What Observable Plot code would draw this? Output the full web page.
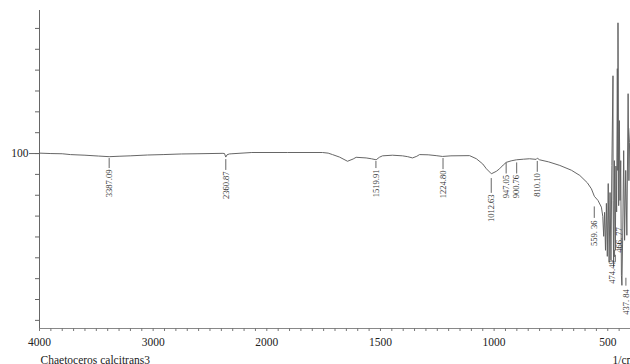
<!DOCTYPE html>
<html>
<head>
<meta charset="utf-8">
<script src="https://cdn.jsdelivr.net/npm/d3@7"></script>
<script src="https://cdn.jsdelivr.net/npm/@observablehq/plot@0.6"></script>
<style>
  html, body { margin: 0; padding: 0; background: #fff; }
  #chart { width: 630px; height: 364px; overflow: hidden; }
</style>
</head>
<body>
<div id="chart"></div>
<script>
// Spectrum: wavenumber (1/cm) and transmittance-like value
const wavenumbers = [
  4000, 3900, 3800, 3728, 3600, 3480, 3387, 3300, 3202, 3050, 2912, 2750, 2614, 2386, 2372, 2361, 2350, 2330, 2307, 2132,
  1908, 1755, 1730, 1711, 1680, 1645, 1620, 1607, 1563, 1540, 1519, 1505, 1491, 1447, 1403, 1380, 1359, 1340, 1328, 1290,
  1255, 1227, 1190, 1108, 1078, 1050, 1034, 1012, 990, 976, 960, 946, 925, 902, 870, 844, 815, 810, 800, 760,
  711, 660, 623, 590, 572, 559, 543, 528,
  522, 518, 514, 510, 506, 502, 498, 494, 490, 486, 482, 477, 476.5, 474.5, 471, 468, 466.8, 464, 461, 458,
  456, 455, 452, 449, 446, 443, 440, 437.8, 434, 430, 426, 421, 416, 410.5, 407, 404, 401
];
const transmittance = [
  100.2, 100.0, 99.9, 99.5, 99.2, 98.8, 98.5, 98.7, 98.9, 99.3, 99.5, 99.8, 99.9, 100.1, 100.0, 98.3, 99.4, 99.8, 99.9, 100.5,
  100.5, 100.5, 100.2, 99.5, 98.3, 96.3, 97.4, 98.2, 97.9, 97.5, 97.0, 98.2, 98.9, 99.2, 98.9, 98.5, 97.9, 98.7, 99.5, 99.4,
  99.0, 98.6, 98.9, 99.0, 97.5, 95.0, 92.7, 90.3, 91.5, 92.7, 94.5, 95.8, 96.5, 97.0, 97.3, 97.5, 97.2, 97.8, 97.0, 96.0,
  94.3, 92.0, 89.5, 86.0, 83.1, 79.5, 77.5, 74.3,
  69.9, 60.3, 71.8, 53.6, 76.1, 50.7, 85.6, 47.9, 81.3, 48.8, 94.3, 137.3, 77.5, 45.9, 96.6, 60.8, 53.6, 94.0, 72.0, 140.7,
  91.9, 162.7, 75.0, 115.8, 77.5, 96.6, 41.6, 36.8, 63.2, 101.4, 58.4, 91.9, 60.8, 128.7, 87.0, 105.3, 112.0
];

// Peak annotations: leader rule (top -> bottom) and where the rotated label starts
const peakWn = [3387.09, 2360.87, 1519.91, 1224.80, 1012.63, 947.05, 900.76, 810.10, 559.36, 474.49, 466.77, 437.84];
const peakLabels = ["3387.09", "2360.87", "1519.91", "1224.80", "1012.63", "947.05", "900.76", "810.10", "559. 36", "474.49", "466. 77", "437. 84"];
const leaderTop =    [97.6, 97.1, 96.2, 97.6, 88.0, 95.5, 95.5, 96.2, 74.4, 53.6, 51.2, 40.2];
const leaderBottom = [92.8, 91.9, 92.8, 92.3, 80.9, 90.2, 90.2, 91.0, 68.9, 50.2, 47.8, 36.4];
const labelAt =      [92.8, 91.9, 92.8, 92.3, 80.9, 90.2, 90.2, 91.0, 68.4, 49.3, 65.1, 35.4];

// Axis ticks
const xTickLabels = [4000, 3000, 2000, 1500, 1000, 500];
const xMinorTicks = [...d3.range(4000, 2000, -100), ...d3.range(2000, 399, -50)];
const yTicks = d3.range(20, 161, 10);
const yLabelled = [100];

const yMin = 16.1, yMax = 168.6;

// The instrument expands the axis by a factor of 2 below 2000 1/cm
const expand = w => (w >= 2000 ? w : 2000 - (2000 - w) * 2);
const unexpand = t => (t >= 2000 ? t : 2000 - (2000 - t) / 2);

const curve = wavenumbers.map((w, i) => ({w, t: transmittance[i]}));
const peaks = peakWn.map((w, i) => ({w, label: peakLabels[i], top: leaderTop[i], bottom: leaderBottom[i], at: labelAt[i], i}));
const mainPeaks = peaks.filter(p => p.i < 9);
const pk = i => peaks.filter(p => p.i === i);

const textOpts = {x: "w", y: "at", text: "label", rotate: -90, textAnchor: "end", dy: 1, fontSize: 8.5, fill: "#333"};

const plot = Plot.plot({
  width: 630,
  height: 364,
  marginLeft: 39,
  marginRight: 0,
  marginTop: 10,
  marginBottom: 36,
  style: {fontFamily: "'Liberation Serif', 'DejaVu Serif', serif", fontSize: "11.5px", color: "#222", background: "#fff"},
  x: {type: "linear", transform: expand, domain: [expand(4000), expand(400)]},
  y: {domain: [yMin, yMax]},
  marks: [
    Plot.ruleX([4000], {y1: yMin, y2: yMax, stroke: "#666", strokeWidth: 1}),
    Plot.ruleY([yMin], {x1: 4000, x2: 400, stroke: "#888", strokeWidth: 1}),
    Plot.axisY({ticks: yTicks, tickSize: 4, tickFormat: () => "", stroke: "#666", label: null}),
    Plot.axisY({ticks: yLabelled, tickSize: 10, tickPadding: 1, tickFormat: d => String(d), stroke: "#666", fill: "#222", fontSize: 11.5, label: null}),
    Plot.axisX({ticks: xMinorTicks.map(expand), tickSize: 3, tickFormat: () => "", stroke: "#777", label: null}),
    Plot.axisX({ticks: xTickLabels.map(expand), tickSize: 0, tickPadding: 9, tickFormat: t => String(unexpand(t)), fill: "#222", fontSize: 11.5, label: null}),
    Plot.line(curve, {x: "w", y: "t", stroke: "#5e5e5e", strokeWidth: 0.95, curve: "linear"}),
    Plot.ruleX(mainPeaks, {x: "w", y1: "top", y2: "bottom", stroke: "#555", strokeWidth: 0.9}),
    Plot.text(mainPeaks, textOpts),
    Plot.ruleX(pk(9), {x: "w", y1: "top", y2: "bottom", dx: 1, stroke: "#555", strokeWidth: 0.9}),
    Plot.text(pk(9), {...textOpts, dx: -1}),
    Plot.ruleX(pk(10), {x: "w", y1: "top", y2: "bottom", stroke: "#555", strokeWidth: 0.9}),
    Plot.text(pk(10), {...textOpts, dx: 4}),
    Plot.ruleX(pk(11), {x: "w", y1: "top", y2: "bottom", dx: 4, stroke: "#555", strokeWidth: 0.9}),
    Plot.text(pk(11), {...textOpts, dx: 4}),
    Plot.text(["Chaetoceros calcitrans3"], {frameAnchor: "bottom-left", textAnchor: "start", lineAnchor: "bottom", dx: 1, dy: 35, fontSize: 11.5, fill: "#222"}),
    Plot.text(["1/cm"], {frameAnchor: "bottom-right", textAnchor: "start", lineAnchor: "bottom", dx: -18, dy: 35, fontSize: 11.5, fill: "#222"})
  ]
});
document.getElementById("chart").appendChild(plot);
</script>
</body>
</html>
